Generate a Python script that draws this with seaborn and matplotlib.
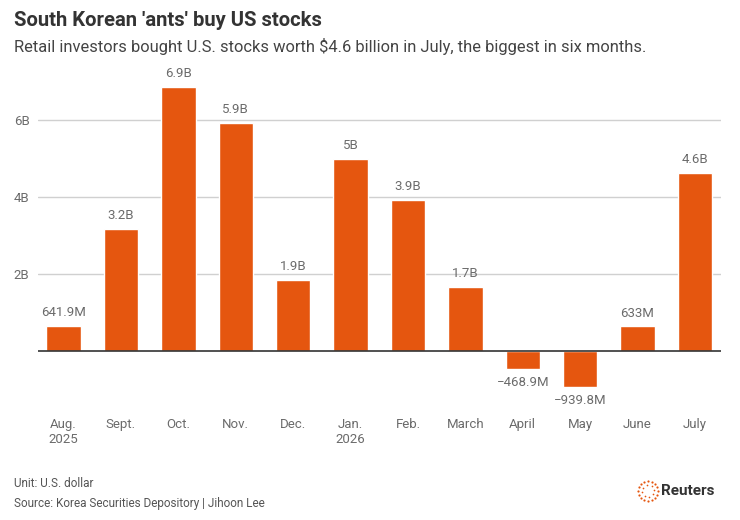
import numpy as np
import pandas as pd
import seaborn as sns
import matplotlib.pyplot as plt

months = ["Aug.\n2025", "Sept.", "Oct.", "Nov.", "Dec.", "Jan.\n2026", "Feb.",
          "March", "April", "May", "June", "July"]
# net purchases, billions of US dollars
values = [0.6419, 3.17, 6.85, 5.92, 1.84, 4.99, 3.92, 1.66, -0.4689, -0.9398, 0.633, 4.62]
labels = ["641.9M", "3.2B", "6.9B", "5.9B", "1.9B", "5B", "3.9B", "1.7B",
          "\u2212468.9M", "\u2212939.8M", "633M", "4.6B"]
yticks = [2, 4, 6]
ytick_labels = ["2B", "4B", "6B"]

sns.set_style("white")
plt.rcParams["font.family"] = ["Roboto", "DejaVu Sans"]

orange = "#E5560F"
grey = "#6b6b6b"

df = pd.DataFrame({"month": months, "value": values})

fig = plt.figure(figsize=(7.4, 5.2), dpi=100)
ax = fig.add_axes([0.051, 0.229, 0.923, 0.652])

sns.barplot(df, x="month", y="value", color=orange, width=0.6, saturation=1, ax=ax)

ax.set_ylim(-1.3, 7.5)
ax.set_xlim(-0.45, 11.45)
ax.set_yticks(yticks)
ax.set_yticklabels(ytick_labels)
for y in yticks:
    ax.axhline(y, color="#d0d0d0", lw=1, zorder=0)
ax.axhline(0, color="#333333", lw=1.2, zorder=3)

for i, (v, lab) in enumerate(zip(values, labels)):
    if v >= 0:
        ax.text(i, v + 0.18, lab, ha="center", va="bottom", fontsize=9.5, color=grey)
    else:
        ax.text(i, v - 0.18, lab, ha="center", va="top", fontsize=9.5, color=grey)

ax.set_xlabel("")
ax.set_ylabel("")
ax.tick_params(axis="x", length=0, pad=12, labelsize=9.5, labelcolor=grey)
ax.tick_params(axis="y", length=0, pad=6, labelsize=9.5, labelcolor=grey)
sns.despine(ax=ax, left=True, bottom=True)

fig.text(0.019, 0.961, "South Korean 'ants' buy US stocks", fontsize=14.6, fontweight="bold",
         color="#333333", va="center")
fig.text(0.019, 0.91, "Retail investors bought U.S. stocks worth $4.6 billion in July, the biggest in six months.",
         fontsize=11.9, color="#444444", va="center")
fig.text(0.019, 0.071, "Unit: U.S. dollar", fontsize=8.5, color="#555555", va="center")
fig.text(0.019, 0.031, "Source: Korea Securities Depository | Jihoon Lee", fontsize=8.5,
         color="#555555", va="center")

# Reuters logo: ring of dots plus wordmark
lx = fig.add_axes([0.858, 0.031, 0.036, 0.05])
ang = np.linspace(0, 2 * np.pi, 16, endpoint=False)
lx.scatter(np.cos(ang), np.sin(ang), s=2.5, color=orange, linewidths=0)
ang2 = np.linspace(0, 2 * np.pi, 8, endpoint=False) + 0.2
lx.scatter(0.6 * np.cos(ang2), 0.6 * np.sin(ang2), s=1.5, color=orange, linewidths=0)
lx.set_xlim(-1.3, 1.3)
lx.set_ylim(-1.3, 1.3)
lx.set_aspect("equal")
lx.axis("off")
fig.text(0.893, 0.056, "Reuters", fontsize=11, fontweight="bold", color="#333333", va="center")

fig.savefig("out.png", dpi=100)
